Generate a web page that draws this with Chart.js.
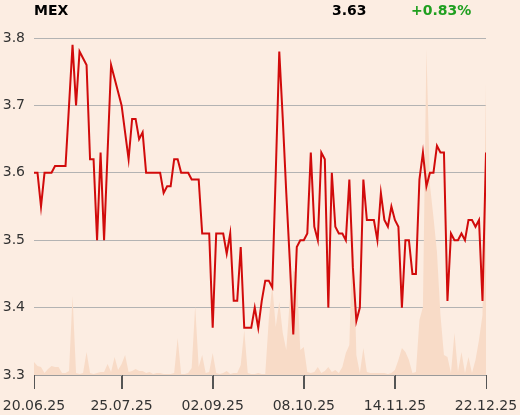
<!DOCTYPE html>
<html>
<head>
<meta charset="utf-8">
<script src="https://cdn.jsdelivr.net/npm/chart.js@4/dist/chart.umd.min.js"></script>
<style>
    body {
        margin: 0;
        background: #fcede2;
        font-family: "DejaVu Sans", sans-serif;
    }
    .wrap {
        position: relative;
        width: 520px;
        height: 415px;
    }
    .head {
        position: absolute;
        top: 2px;
        font-size: 14px;
        font-weight: bold;
        line-height: 16px;
    }
    #symbol { left: 34px; color: #000; }
    #last { left: 332px; color: #000; }
    #change { left: 411px; color: #1f9f1f; }
</style>
</head>
<body>
<div class="wrap">
    <div class="head" id="symbol">MEX</div>
    <div class="head" id="last">3.63</div>
    <div class="head" id="change">+0.83%</div>
    <canvas id="chart" width="520" height="415"></canvas>
</div>
<script>
// daily closes, 20.06.25 .. 22.12.25
const prices = [
    3.60, 3.60, 3.55, 3.60, 3.60, 3.60, 3.61, 3.61, 3.61, 3.61,
    3.70, 3.79, 3.70, 3.78, 3.77, 3.76, 3.62, 3.62, 3.50, 3.63,
    3.50, 3.63, 3.76, 3.74, 3.72, 3.70, 3.66, 3.62, 3.68, 3.68,
    3.65, 3.66, 3.60, 3.60, 3.60, 3.60, 3.60, 3.57, 3.58, 3.58,
    3.62, 3.62, 3.60, 3.60, 3.60, 3.59, 3.59, 3.59, 3.51, 3.51,
    3.51, 3.37, 3.51, 3.51, 3.51, 3.48, 3.51, 3.41, 3.41, 3.49,
    3.37, 3.37, 3.37, 3.40, 3.37, 3.41, 3.44, 3.44, 3.43, 3.60,
    3.78, 3.68, 3.57, 3.47, 3.36, 3.49, 3.50, 3.50, 3.51, 3.63,
    3.52, 3.50, 3.63, 3.62, 3.40, 3.60, 3.52, 3.51, 3.51, 3.50,
    3.59, 3.46, 3.38, 3.40, 3.59, 3.53, 3.53, 3.53, 3.50, 3.57,
    3.53, 3.52, 3.55, 3.53, 3.52, 3.40, 3.50, 3.50, 3.45, 3.45,
    3.59, 3.63, 3.58, 3.60, 3.60, 3.64, 3.63, 3.63, 3.41, 3.51,
    3.50, 3.50, 3.51, 3.50, 3.53, 3.53, 3.52, 3.53, 3.41, 3.63
];

// traded volume (thousands)
const volumes = [
    13, 9, 8, 2, 6, 9, 8, 8, 2, 2,
    4, 79, 2, 1, 2, 23, 2, 1, 2, 3,
    3, 11, 3, 18, 5, 11, 20, 3, 4, 6,
    4, 4, 2, 3, 1, 2, 2, 1, 1, 1,
    2, 37, 1, 1, 2, 7, 69, 8, 20, 2,
    3, 22, 2, 1, 2, 4, 1, 2, 2, 10,
    45, 2, 1, 1, 2, 1, 1, 55, 90, 48,
    73, 42, 25, 75, 105, 100, 25, 28, 3, 2,
    3, 8, 2, 4, 8, 3, 5, 2, 8, 22,
    30, 155, 20, 2, 27, 3, 2, 2, 2, 2,
    2, 1, 2, 5, 15, 27, 23, 15, 2, 3,
    55, 68, 326, 190, 158, 123, 60, 20, 18, 2,
    42, 3, 23, 2, 18, 2, 15, 35, 60, 292
];

const tickLabels = ["20.06.25", "25.07.25", "02.09.25", "08.10.25", "14.11.25", "22.12.25"];
const tickIndex = [0, 25, 51, 77, 103, 129];

const yMin = 3.3;
const yMax = 3.8;
const volMax = 337;

// small tick marks under the date axis
const tickMarks = {
    id: "tickMarks",
    afterDraw(chart) {
        const xScale = chart.scales.x;
        const bottom = chart.chartArea.bottom;
        const c = chart.ctx;
        c.save();
        c.strokeStyle = "#555";
        c.lineWidth = 1;
        tickIndex.forEach((v) => {
            const px = Math.round(xScale.getPixelForValue(v)) + 0.5;
            c.beginPath();
            c.moveTo(px, bottom);
            c.lineTo(px, bottom + 14);
            c.stroke();
        });
        c.restore();
    },
};

const ctx = document.getElementById("chart").getContext("2d");

new Chart(ctx, {
    type: "line",
    data: {
        datasets: [
            {
                label: "Price",
                data: prices.map((v, i) => ({ x: i, y: v })),
                borderColor: "#d10b0b",
                borderWidth: 2,
                pointRadius: 0,
                tension: 0,
                fill: false,
                yAxisID: "y",
                order: 1,
            },
            {
                label: "Volume",
                data: volumes.map((v, i) => ({ x: i, y: v })),
                borderWidth: 0,
                backgroundColor: "#f8dbc7",
                pointRadius: 0,
                tension: 0,
                fill: "origin",
                yAxisID: "y2",
                order: 2,
            },
        ],
    },
    plugins: [tickMarks],
    options: {
        responsive: false,
        animation: false,
        layout: {
            padding: { top: 38, right: 34, left: 0, bottom: 0 },
        },
        plugins: {
            legend: { display: false },
            tooltip: { enabled: false },
        },
        scales: {
            x: {
                type: "linear",
                min: 0,
                max: prices.length - 1,
                afterBuildTicks: (scale) => {
                    scale.ticks = tickIndex.map((v) => ({ value: v }));
                },
                afterFit: (scale) => {
                    scale.height = 40;
                    scale.paddingLeft = 0;
                    scale.paddingRight = 0;
                },
                ticks: {
                    callback: (value) => tickLabels[tickIndex.indexOf(value)],
                    color: "#333",
                    font: { family: "DejaVu Sans", size: 14 },
                    padding: 9,
                    maxRotation: 0,
                    autoSkip: false,
                },
                grid: {
                    display: true,
                    drawOnChartArea: false,
                    drawTicks: true,
                    tickLength: 14,
                    color: "#555",
                },
                border: { display: true, color: "#9a9a9a" },
            },
            y: {
                min: yMin,
                max: yMax,
                afterFit: (scale) => {
                    scale.width = 34;
                },
                ticks: {
                    stepSize: 0.1,
                    callback: (value) => value.toFixed(1),
                    color: "#333",
                    font: { family: "DejaVu Sans", size: 14 },
                    padding: 9,
                },
                grid: {
                    color: "#b3b3b3",
                    drawTicks: false,
                },
                border: { display: false },
            },
            y2: {
                display: false,
                min: 0,
                max: volMax,
            },
        },
    },
});
</script>
</body>
</html>
